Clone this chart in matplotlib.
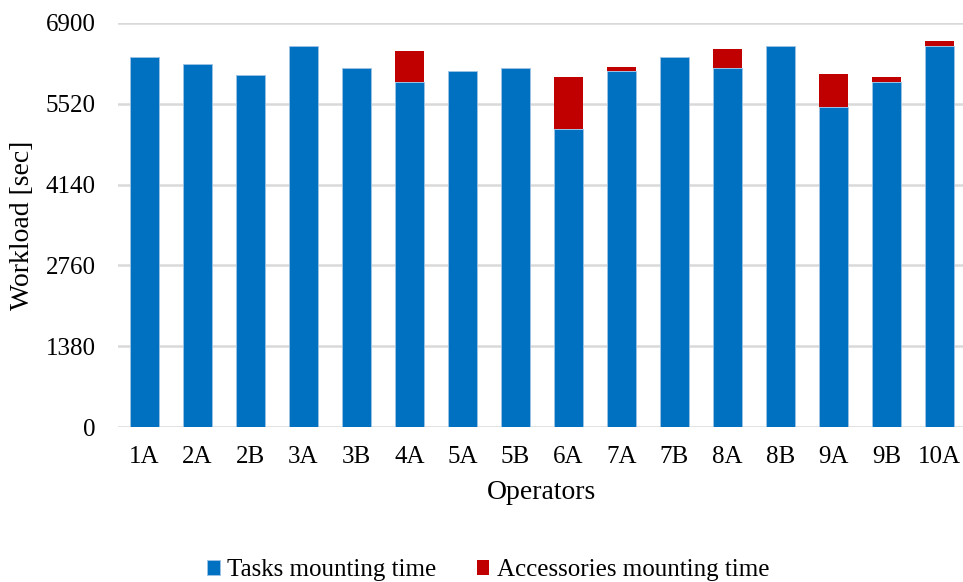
import numpy as np
import matplotlib.pyplot as plt

plt.rcParams['font.family'] = ['Liberation Serif', 'DejaVu Serif']

# workload per operator, seconds
operateurs = ['1A', '2A', '2B', '3A', '3B', '4A', '5A', '5B', '6A', '7A',
              '7B', '8A', '8B', '9A', '9B', '10A']
taches = [6320, 6195, 6010, 6500, 6135, 5890, 6075, 6135, 5090, 6075,
          6320, 6135, 6500, 5460, 5890, 6500]
accessoires = [0, 0, 0, 0, 0, 535, 0, 0, 890, 75,
               0, 325, 0, 575, 85, 95]
yticks = [0, 1380, 2760, 4140, 5520, 6900]

bleu = '#0070c0'
rouge = '#c00000'

fig = plt.figure(figsize=(9.63, 5.82), dpi=100)
ax = fig.add_axes([0.1225, 0.2663, 0.8806, 0.6942])

X = np.arange(len(operateurs))
ax.bar(X, taches, width=0.55, color=bleu, edgecolor='#9dc3e6', linewidth=0.6,
       label='Tasks mounting time', zorder=3)
ax.bar(X, accessoires, width=0.55, bottom=taches, color=rouge, linewidth=0,
       label='Accessories mounting time', zorder=3)

ax.set_xlim(-0.5, len(operateurs) - 0.5)
ax.set_ylim(0, 6900)
ax.set_yticks(yticks)
ax.set_xticks(X)
ax.set_xticklabels(operateurs)
ax.tick_params(axis='both', length=0, labelsize=18)
ax.tick_params(axis='x', pad=14)
ax.tick_params(axis='y', pad=16)
ax.grid(axis='y', color='#d9d9d9', linewidth=1.8, zorder=0)
for s in ax.spines.values():
    s.set_visible(False)

ax.set_xlabel('Operators', fontsize=20, labelpad=8)
ax.set_ylabel('Workload [sec]', fontsize=20, labelpad=8)

fig.legend(loc='center', bbox_to_anchor=(0.507, 0.02), ncol=2, frameon=False,
           fontsize=18, handlelength=0.5, handleheight=0.5, handletextpad=0.3,
           columnspacing=1.6)

plt.savefig('out.png', dpi=100)
